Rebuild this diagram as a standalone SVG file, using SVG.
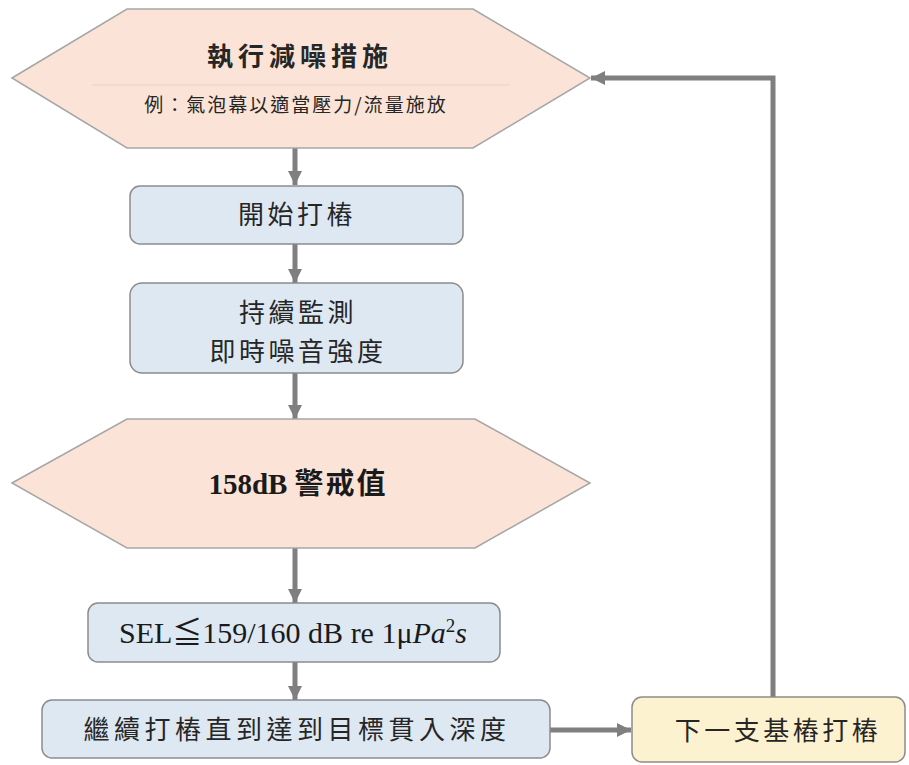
<svg xmlns="http://www.w3.org/2000/svg" width="909" height="765" viewBox="0 0 909 765">
<style>
.hex{fill:#fbe4d7;stroke:#a6a6a6;stroke-width:1.5}
.blue{fill:#dee8f3;stroke:#8c8c8c;stroke-width:1.5}
.yellow{fill:#fdf2d0;stroke:#8c8c8c;stroke-width:1.5}
.cjk{font-family:"Noto Sans CJK TC","Noto Sans CJK SC",sans-serif;fill:#262626;text-anchor:middle}
.serif{font-family:"Liberation Serif","Noto Sans CJK TC",serif;fill:#1a1a1a;text-anchor:middle}
.conn{fill:none;stroke:#7f7f7f;stroke-width:5}
</style>
<defs>
<marker id="ah" markerUnits="userSpaceOnUse" markerWidth="16" markerHeight="16" refX="14" refY="8" orient="auto">
<path d="M0,1 L14,8 L0,15 Z" fill="#7f7f7f"/>
</marker>
</defs>
<rect width="909" height="765" fill="#ffffff"/>
<g id="connectors">
<line class="conn" x1="295" y1="148" x2="295" y2="185" marker-end="url(#ah)"/>
<line class="conn" x1="295" y1="244" x2="295" y2="283" marker-end="url(#ah)"/>
<line class="conn" x1="295" y1="373" x2="295" y2="419" marker-end="url(#ah)"/>
<line class="conn" x1="295" y1="548" x2="295" y2="603" marker-end="url(#ah)"/>
<line class="conn" x1="295" y1="662" x2="295" y2="700" marker-end="url(#ah)"/>
<line class="conn" x1="550" y1="730" x2="631" y2="730" marker-end="url(#ah)"/>
<path class="conn" d="M773,697 V78 H591" marker-end="url(#ah)"/>
</g>
<g id="n1">
<polygon class="hex" points="12,78 127,9 473,9 590,78 473,148 127,148"/>
<line x1="92" y1="85" x2="510" y2="85" stroke="#e8d2c6" stroke-width="1.2"/>
<text class="cjk" x="300" y="66" font-size="26" font-weight="bold" letter-spacing="5">執行減噪措施</text>
<text class="cjk" x="296" y="112" font-size="19" letter-spacing="2" fill="#333">例：氣泡幕以適當壓力/流量施放</text>
</g>
<g id="n2">
<rect class="blue" x="130" y="186" width="333" height="58" rx="10"/>
<text class="cjk" x="297" y="224" font-size="26" letter-spacing="3.5">開始打樁</text>
</g>
<g id="n3">
<rect class="blue" x="130" y="283" width="333" height="90" rx="12"/>
<text class="cjk" x="298" y="322" font-size="26" letter-spacing="3.5">持續監測</text>
<text class="cjk" x="298" y="361" font-size="26" letter-spacing="3.5">即時噪音強度</text>
</g>
<g id="n4">
<polygon class="hex" points="12,483 127,419 475,419 590,483 475,548 127,548"/>
<text class="serif" x="298" y="494" font-size="29" font-weight="bold">158dB <tspan font-family="Noto Sans CJK TC, sans-serif" letter-spacing="2">警戒值</tspan></text>
</g>
<g id="n5">
<rect class="blue" x="88" y="603" width="412" height="59" rx="10"/>
<text class="serif" x="293" y="643" font-size="30">SEL≦159/160 dB re 1μ<tspan font-style="italic">Pa</tspan><tspan font-size="19" dy="-11">2</tspan><tspan font-style="italic" dy="11">s</tspan></text>
</g>
<g id="n6">
<rect class="blue" x="42" y="700" width="508" height="58" rx="10"/>
<text class="cjk" x="297" y="739" font-size="26" letter-spacing="4.5">繼續打樁直到達到目標貫入深度</text>
</g>
<g id="n7">
<rect class="yellow" x="632" y="697" width="273" height="65" rx="10"/>
<text class="cjk" x="778" y="740" font-size="26" letter-spacing="3.5">下一支基樁打樁</text>
</g>
</svg>
